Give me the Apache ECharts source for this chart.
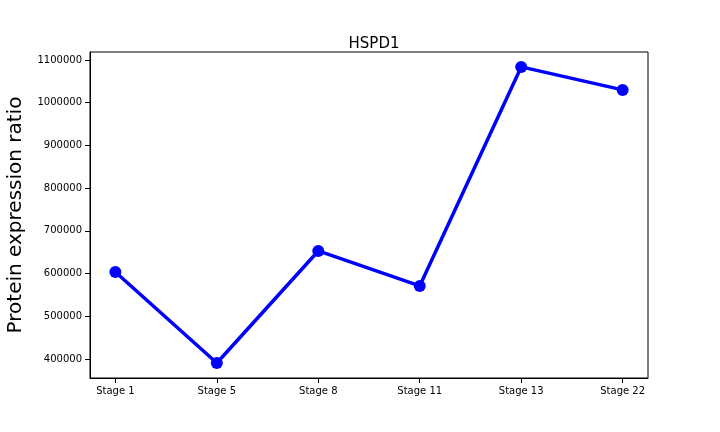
<!DOCTYPE html>
<html>
<head>
<meta charset="utf-8">
<script src="https://cdn.jsdelivr.net/npm/echarts@6/dist/echarts.min.js"></script>
<style>html,body{margin:0;padding:0;background:#fff}#main{width:720px;height:432px}</style>
</head>
<body>
<div id="main"></div>
<script>
var stages = ['Stage 1', 'Stage 5', 'Stage 8', 'Stage 11', 'Stage 13', 'Stage 22'];
var ratios = [603700, 390600, 652900, 571000, 1083800, 1030000];
var yTicks = [400000, 500000, 600000, 700000, 800000, 900000, 1000000, 1100000];

var chart = echarts.init(document.getElementById('main'));
chart.setOption({
    animation: false,
    title: {
        text: 'HSPD1', left: 369, top: 32, textAlign: 'center',
        textStyle: { fontFamily: 'DejaVu Sans', fontSize: 15, fontWeight: 'normal', color: '#000' }
    },
    grid: {
        left: 90, right: 72, top: 52, bottom: 54, show: true,
        borderColor: '#000', borderWidth: 1, outerBoundsMode: 'none', containLabel: false
    },
    xAxis: {
        type: 'value', min: -0.25, max: 5.25,
        splitLine: { show: false },
        axisLine: { onZero: false, lineStyle: { color: '#000' } },
        axisTick: { customValues: [0, 1, 2, 3, 4, 5], lineStyle: { color: '#000' } },
        axisLabel: {
            customValues: [0, 1, 2, 3, 4, 5],
            formatter: function (v) { return stages[Math.round(v)]; },
            fontFamily: 'DejaVu Sans', fontSize: 10, color: '#000'
        }
    },
    yAxis: {
        type: 'value', min: 355500, max: 1118700,
        name: 'Protein expression ratio', nameLocation: 'middle', nameGap: 64,
        nameTextStyle: { fontFamily: 'DejaVu Sans', fontSize: 20, color: '#000' },
        splitLine: { show: false },
        axisLine: { show: true, onZero: false, lineStyle: { color: '#000' } },
        axisTick: { show: true, customValues: yTicks, lineStyle: { color: '#000' } },
        axisLabel: {
            customValues: yTicks, formatter: function (v) { return String(v); },
            fontFamily: 'DejaVu Sans', fontSize: 10, color: '#000'
        }
    },
    series: [{
        type: 'line',
        data: ratios.map(function (v, i) { return [i, v]; }),
        lineStyle: { color: '#0000ff', width: 3.5 },
        itemStyle: { color: '#0000ff' },
        symbol: 'circle', symbolSize: 12
    }]
});
</script>
</body>
</html>
